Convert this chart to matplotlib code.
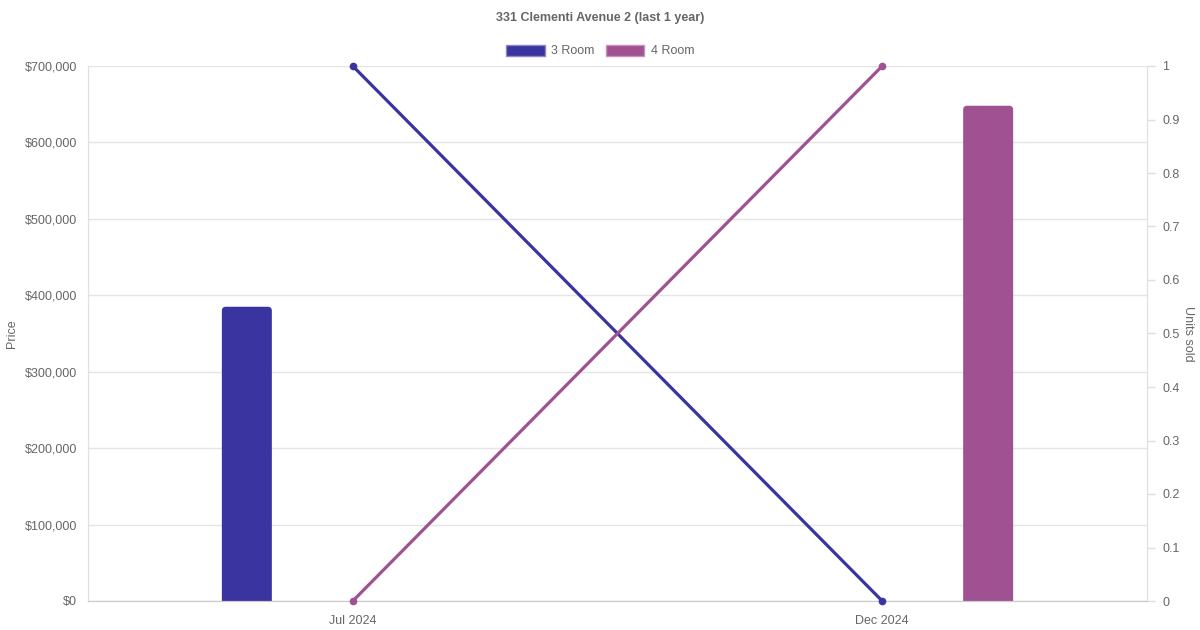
import matplotlib
matplotlib.use("Agg")
import matplotlib.pyplot as plt
from matplotlib.patches import FancyBboxPatch, Patch
from matplotlib.ticker import FuncFormatter, MultipleLocator

# ---- data ----
title = "331 Clementi Avenue 2 (last 1 year)"
categories = ["Jul 2024", "Dec 2024"]
series_names = ["3 Room", "4 Room"]
price_3room = [385000, None]
price_4room = [None, 648000]
units_3room = [1, 0]
units_4room = [0, 1]
colors = ["#3934a0", "#a05192"]
edge_colors = ["#8a87c8", "#c592bd"]

plt.rcParams['font.family'] = ['Liberation Sans', 'DejaVu Sans']
TXT = "#666666"

W, H, DPI = 1200, 630, 100
fig = plt.figure(figsize=(W / DPI, H / DPI), dpi=DPI)
L, R, T, B = 88, 1147, 66, 601
ax = fig.add_axes([L / W, 1 - B / H, (R - L) / W, (B - T) / H])
ax2 = ax.twinx()

x = list(range(len(categories)))
ax.set_xlim(-0.5, len(categories) - 0.5)
ax.set_ylim(0, 700000)
ax2.set_ylim(0, 1)

px_x = (len(categories)) / (R - L)      # x data units per pixel
px_y = 700000 / (B - T)                 # y data units per pixel
bar_w = 50 * px_x
offsets = [-0.2, 0.2]

for vals, off, c in zip([price_3room, price_4room], offsets, colors):
    xs = [xi + off for xi, v in zip(x, vals) if v is not None]
    hs = [v for v in vals if v is not None]
    bars = ax.bar(xs, hs, width=bar_w, color=c, zorder=2)
    for rect in bars.patches:
        bx, bw, bh = rect.get_x(), rect.get_width(), rect.get_height()
        rect.set_visible(False)
        rad = 4 * px_x
        fb = FancyBboxPatch((bx, -10 * px_y), bw, bh + 10 * px_y,
                            boxstyle=f"round,pad=0,rounding_size={rad}",
                            mutation_aspect=px_y / px_x,
                            facecolor=c, edgecolor='none', zorder=2,
                            clip_on=True)
        ax.add_patch(fb)

for vals, c in zip([units_3room, units_4room], colors):
    ax2.plot(x, vals, color=c, lw=2.3, marker='o', markersize=4.5,
             clip_on=False, zorder=3)

# axes styling
ax.yaxis.set_major_locator(MultipleLocator(100000))
ax.yaxis.set_major_formatter(FuncFormatter(lambda v, p: f"${v:,.0f}"))
ax.grid(axis='y', color='#e5e5e5', lw=1, zorder=0)
ax.set_axisbelow(True)
ax.set_xticks(x)
ax.set_xticklabels(categories)
ax.tick_params(axis='x', length=0, pad=10, labelsize=9, labelcolor=TXT)
ax.tick_params(axis='y', length=0, pad=8, labelsize=9, labelcolor=TXT)

ax2.yaxis.set_major_locator(MultipleLocator(0.1))
ax2.yaxis.set_major_formatter(FuncFormatter(lambda v, p: f"{v:g}"))
ax2.tick_params(axis='y', length=6, width=1, color='#e0e0e0', pad=5,
                labelsize=9, labelcolor=TXT)

for a in (ax, ax2):
    a.spines['top'].set_visible(False)
    a.spines['left'].set_color('#e0e0e0')
    a.spines['right'].set_color('#e0e0e0')
    a.spines['bottom'].set_color('#cccccc')

ax.set_ylabel("Price", color=TXT, fontsize=9)
ax.yaxis.set_label_coords((12 - L) / (R - L), 0.5)
ax2.set_ylabel("Units sold", color=TXT, fontsize=9, rotation=270)
ax2.yaxis.set_label_coords(1 + (1188 - R) / (R - L), 0.5)
ax2.yaxis.label.set_va('center')
ax.yaxis.label.set_va('center')

fig.text(0.5, 1 - 18 / H, title, ha='center', va='center',
         fontsize=9, fontweight='bold', color=TXT)

handles = [Patch(facecolor=c, edgecolor=e, lw=1) for c, e in zip(colors, edge_colors)]
fig.legend(handles, series_names, loc='center', bbox_to_anchor=(0.5, 1 - 51 / H),
           ncol=2, frameon=False, fontsize=9, labelcolor=TXT,
           handlelength=3.1, handleheight=1.0, handletextpad=0.5,
           columnspacing=0.9)

fig.savefig("out.png", dpi=DPI)
